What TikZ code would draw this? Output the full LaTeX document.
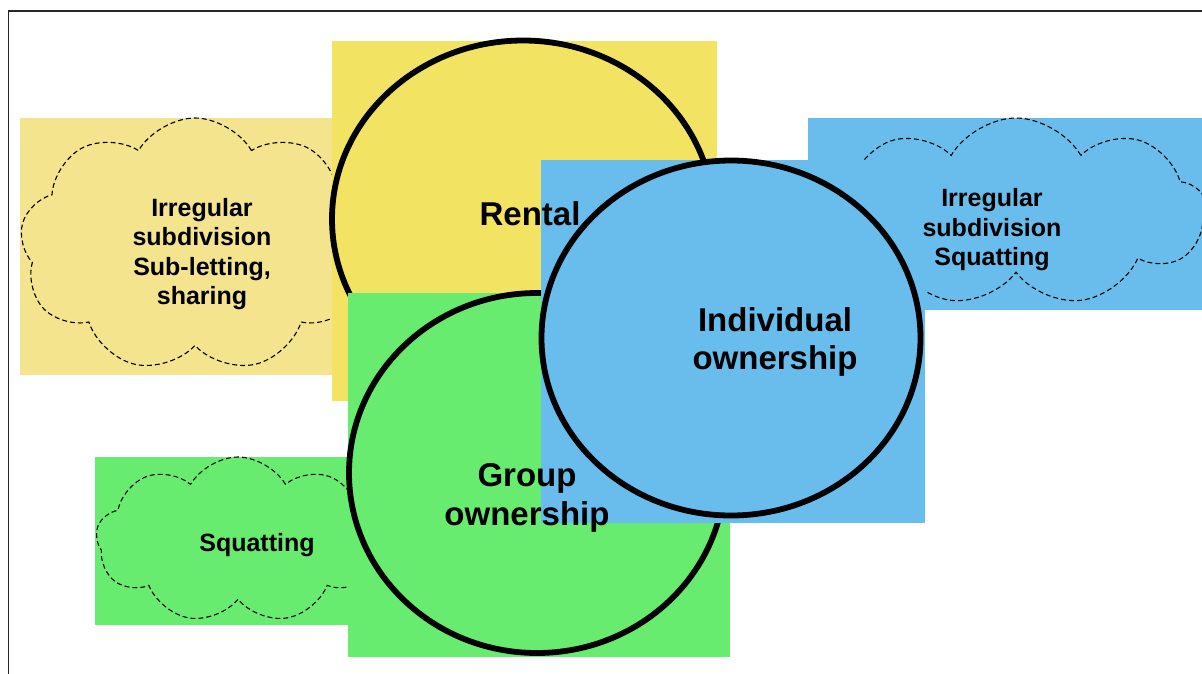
\documentclass[tikz,border=0pt]{standalone}
\usepackage{fontspec}
\setmainfont{Liberation Sans}
\usetikzlibrary{shapes.geometric,shapes.symbols}
\definecolor{ylight}{RGB}{244,228,142}
\definecolor{yrent}{RGB}{242,228,98}
\definecolor{grn}{RGB}{104,236,112}
\definecolor{blu}{RGB}{104,189,236}
\begin{document}
\begin{tikzpicture}[x=1pt,y=-1pt,
  cloudline/.style={cloud, draw, dash pattern=on 5pt off 3pt, line width=1.1pt,
    cloud puffs=9, cloud puff arc=120, cloud ignores aspect, inner sep=0pt},
  ring/.style={ellipse, draw, line width=5.8pt, inner sep=0pt},
  bigtxt/.style={font=\fontsize{33}{38.5}\selectfont\bfseries, align=center, inner sep=0pt},
  smalltxt/.style={font=\fontsize{25}{29.5}\selectfont\bfseries, align=center, inner sep=0pt}]
\useasboundingbox (0,0) rectangle (1202,673);
\fill[white] (0,0) rectangle (1202,673);
\draw[line width=1.3pt, black!85] (8.5,11) rectangle (1240,700);

% cloud backgrounds
\fill[ylight] (20,118) rectangle (332,375);
\node[cloudline, minimum width=350pt, minimum height=254pt] (cloudY) at (195,245) {};
\fill[blu] (808,118) rectangle (1202,310);
\node[cloudline, minimum width=380pt, minimum height=188pt] (cloudB) at (1016,212) {};
\fill[grn] (95,457) rectangle (348,625);
\node[cloudline, minimum width=284pt, minimum height=166pt] (cloudG) at (238,540) {};

% Rental
\fill[yrent] (332,41) rectangle (717,401);
\node[ring, minimum width=382pt, minimum height=357pt] (rental) at (523,219) {};
% Group ownership
\fill[grn] (348,293) rectangle (730,657);
\node[ring, minimum width=376pt, minimum height=360pt] (group) at (537,473) {};
% Individual ownership
\fill[blu] (541,160) rectangle (925,523);
\node[ring, minimum width=379pt, minimum height=355pt] (indiv) at (731,338) {};

% labels
\node[bigtxt] (trental) at (530,214) {Rental};
\node[bigtxt] (tgroup) at (527,498) {Group\\ownership};
\node[bigtxt] (tindiv) at (775,342) {Individual\\ownership};
\node[smalltxt] (tcy) at (202,254) {Irregular\\subdivision\\Sub-letting,\\sharing};
\node[smalltxt] (tcb) at (992,230) {Irregular\\subdivision\\Squatting};
\node[smalltxt] (tcg) at (257,545) {Squatting};
\end{tikzpicture}
\end{document}
